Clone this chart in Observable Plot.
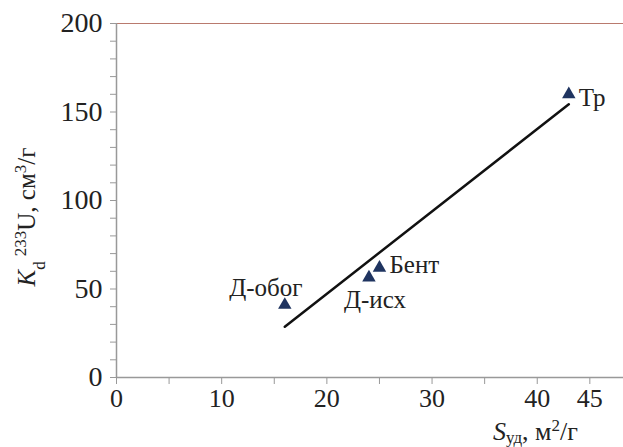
<!DOCTYPE html>
<html><head><meta charset="utf-8">
<script src="https://cdn.jsdelivr.net/npm/d3@7"></script>
<script src="https://cdn.jsdelivr.net/npm/@observablehq/plot@0.6"></script>
<style>body{margin:0;background:#fff}</style>
</head><body><div id="chart"></div>
<script>
const names = ["Д-обог", "Д-исх", "Бент", "Тр"];
const surface = [16, 24, 25, 43];
const kd = [41, 56.5, 62, 160];
const xTicks = [0, 5, 10, 15, 20, 25, 30, 35, 40, 45];
const xLabeled = [0, 10, 20, 30, 40, 45];
const yTicks = [0, 10, 20, 30, 40, 50, 60, 70, 80, 90, 100, 110, 120, 130, 140, 150, 160, 170, 180, 190, 200];
const yLabeled = [0, 50, 100, 150, 200];
const labelDx = [-19, 6, 10, 10];
const labelDy = [-17, 23, -3, 4];
const labelAnchor = ["middle", "middle", "start", "start"];

const data = names.map((n, i) => ({name: n, x: surface[i], y: kd[i], dx: labelDx[i], dy: labelDy[i], a: labelAnchor[i]}));
const font = "'Liberation Serif', 'Times New Roman', serif";

const plot = Plot.plot({
  width: 623, height: 447,
  marginLeft: 116, marginRight: 0, marginTop: 23, marginBottom: 70,
  style: {fontFamily: font, fontSize: "26px", color: "#222", background: "#fff"},
  x: {domain: [0, 48.2]},
  y: {domain: [0, 200]},
  marks: [
    Plot.ruleY([200], {stroke: "#b97a6e", strokeWidth: 1.2}),
    Plot.axisX({ticks: xTicks, tickFormat: d => xLabeled.includes(d) ? d : "", tickSize: 7, tickPadding: 4, stroke: "#999", label: null, fontSize: 26, fontFamily: font}),
    Plot.axisY({ticks: yTicks, tickFormat: d => yLabeled.includes(d) ? d : "", tickSize: 6, tickPadding: 8, stroke: "#999", label: null, fontSize: 28, fontFamily: font}),
    Plot.ruleX([0], {stroke: "#999", strokeWidth: 1.5}),
    Plot.ruleY([0], {stroke: "#999", strokeWidth: 1.5}),
    Plot.linearRegressionY(data, {x: "x", y: "y", ci: 0, stroke: "#111", strokeWidth: 2.5}),
    Plot.dot(data, {x: "x", y: "y", symbol: "triangle", r: 5, fill: "#1f3460", stroke: "none"}),
    ...data.map(d => Plot.text([d], {x: "x", y: "y", text: "name", dx: d.dx, dy: d.dy, textAnchor: d.a, fontSize: 25, fontFamily: font, fill: "#222"}))
  ]
});
document.getElementById("chart").append(plot);

const svg = d3.select(plot);
const yl = svg.append("text")
  .attr("transform", "translate(35,217) rotate(-90)")
  .attr("text-anchor", "middle")
  .attr("font-size", 25).attr("fill", "#222").attr("font-family", font);
yl.append("tspan").attr("font-style", "italic").text("K");
yl.append("tspan").attr("baseline-shift", "sub").attr("font-size", 17).text("d");
yl.append("tspan").attr("baseline-shift", "super").attr("font-size", 17).attr("dx", 5).text("233");
yl.append("tspan").text("U, см");
yl.append("tspan").attr("baseline-shift", "super").attr("font-size", 17).text("3");
yl.append("tspan").text("/г");

const xl = svg.append("text")
  .attr("x", 493).attr("y", 440)
  .attr("text-anchor", "start")
  .attr("font-size", 26).attr("fill", "#222").attr("font-family", font);
xl.append("tspan").attr("font-style", "italic").text("S");
xl.append("tspan").attr("baseline-shift", "-20%").attr("font-size", 17).text("уд");
xl.append("tspan").text(", м");
xl.append("tspan").attr("baseline-shift", "super").attr("font-size", 17).text("2");
xl.append("tspan").text("/г");
</script>
</body></html>
